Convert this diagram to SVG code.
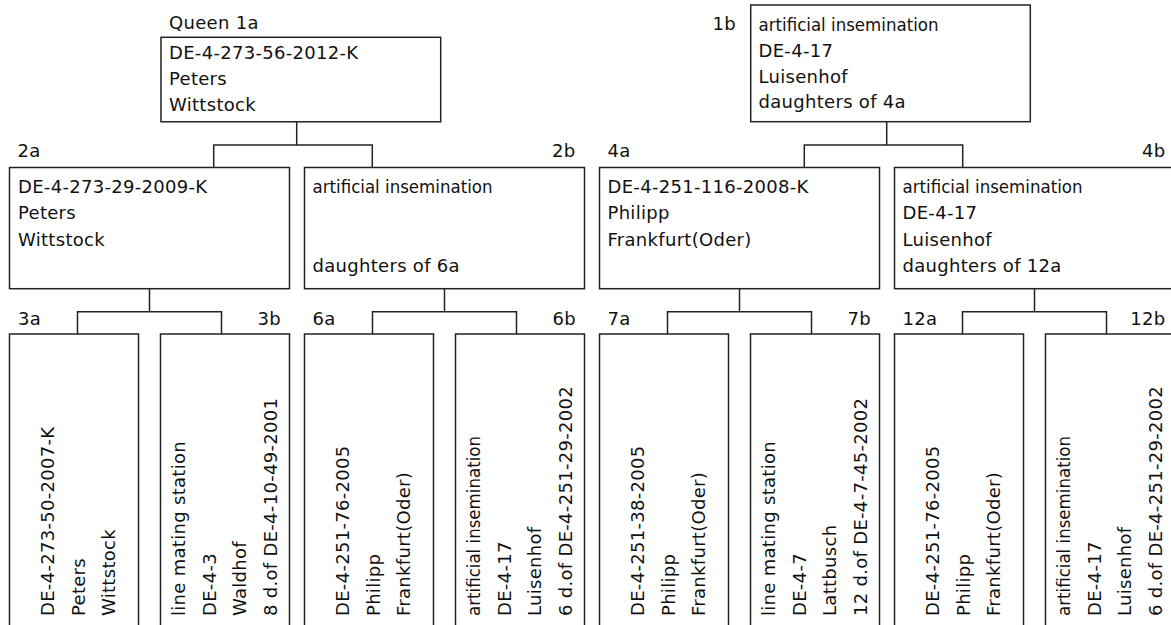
<svg xmlns="http://www.w3.org/2000/svg" width="1171" height="625" viewBox="0 0 1171 625">
<style>
rect.box{fill:#fff;stroke:#222;stroke-width:1.5}
text{font-family:"DejaVu Sans","Liberation Sans",sans-serif;font-size:18px;fill:#111;letter-spacing:0.3px}
text.ai{letter-spacing:0}
text.end{text-anchor:end}
#connectors path{fill:none;stroke:#222;stroke-width:1.5}
</style>
<rect width="1171" height="625" fill="#fff"/>
<g id="connectors">
<path d="M296.7,122 V145 M213.7,167.5 V145 H372.3 V167.5"/>
<path d="M886.7,121.7 V145 M804.3,167.5 V145 H962.7 V167.5"/>
<path d="M149.5,288.7 V311.7 M77.5,334 V311.7 H221.5 V334"/>
<path d="M444.5,288.7 V311.7 M372.5,334 V311.7 H516.5 V334"/>
<path d="M739.5,288.7 V311.7 M667.5,334 V311.7 H811.5 V334"/>
<path d="M1034.5,288.7 V311.7 M962.5,334 V311.7 H1106.5 V334"/>
</g>
<g id="n1a">
<text x="169" y="28.5">Queen 1a</text>
<rect class="box" x="161" y="37.3" width="279.7" height="84.5"/>
<text x="169" y="59">DE-4-273-56-2012-K</text>
<text x="169" y="85">Peters</text>
<text x="169" y="111">Wittstock</text>
</g>
<g id="n1b">
<text class="end" x="736" y="30">1b</text>
<rect class="box" x="750.7" y="5" width="279.6" height="116.7"/>
<text class="ai" x="758.5" y="30.7" textLength="180" lengthAdjust="spacingAndGlyphs">artificial insemination</text>
<text x="758.5" y="56.7">DE-4-17</text>
<text x="758.5" y="82.5">Luisenhof</text>
<text x="758.5" y="108.3">daughters of 4a</text>
</g>
<g id="n2a">
<text x="17.5" y="157.3">2a</text>
<rect class="box" x="9.5" y="167.5" width="280" height="121.2"/>
<text x="18" y="193">DE-4-273-29-2009-K</text>
<text x="18" y="219.3">Peters</text>
<text x="18" y="245.6">Wittstock</text>
</g>
<g id="n2b">
<text class="end" x="575.5" y="157.3">2b</text>
<rect class="box" x="304.5" y="167.5" width="280" height="121.2"/>
<text class="ai" x="312.5" y="193" textLength="180" lengthAdjust="spacingAndGlyphs">artificial insemination</text>
<text x="312.5" y="271.9">daughters of 6a</text>
</g>
<g id="n4a">
<text x="607.5" y="157.3">4a</text>
<rect class="box" x="599.5" y="167.5" width="280" height="121.2"/>
<text x="607.5" y="193">DE-4-251-116-2008-K</text>
<text x="607.5" y="219.3">Philipp</text>
<text x="607.5" y="245.6">Frankfurt(Oder)</text>
</g>
<g id="n4b">
<text class="end" x="1165.5" y="157.3">4b</text>
<rect class="box" x="894.5" y="167.5" width="280" height="121.2"/>
<text class="ai" x="902.5" y="193" textLength="180" lengthAdjust="spacingAndGlyphs">artificial insemination</text>
<text x="902.5" y="219.3">DE-4-17</text>
<text x="902.5" y="245.6">Luisenhof</text>
<text x="902.5" y="271.9">daughters of 12a</text>
</g>
<g id="n3a">
<text x="18" y="324.7">3a</text>
<rect class="box" x="9.5" y="334" width="129" height="300"/>
<text transform="translate(54,616) rotate(-90)">DE-4-273-50-2007-K</text>
<text transform="translate(84.5,616) rotate(-90)">Peters</text>
<text transform="translate(115,616) rotate(-90)">Wittstock</text>
</g>
<g id="n3b">
<text class="end" x="281" y="324.7">3b</text>
<rect class="box" x="160.5" y="334" width="129" height="300"/>
<text transform="translate(185,616) rotate(-90)">line mating station</text>
<text transform="translate(215.5,616) rotate(-90)">DE-4-3</text>
<text transform="translate(246,616) rotate(-90)">Waldhof</text>
<text transform="translate(276.5,616) rotate(-90)">8 d.of DE-4-10-49-2001</text>
</g>
<g id="n6a">
<text x="312.5" y="324.7">6a</text>
<rect class="box" x="304.5" y="334" width="129" height="300"/>
<text transform="translate(349,616) rotate(-90)">DE-4-251-76-2005</text>
<text transform="translate(379.5,616) rotate(-90)">Philipp</text>
<text transform="translate(410,616) rotate(-90)">Frankfurt(Oder)</text>
</g>
<g id="n6b">
<text class="end" x="576" y="324.7">6b</text>
<rect class="box" x="455.5" y="334" width="129" height="300"/>
<text class="ai" transform="translate(480,616) rotate(-90)" textLength="180" lengthAdjust="spacingAndGlyphs">artificial insemination</text>
<text transform="translate(510.5,616) rotate(-90)">DE-4-17</text>
<text transform="translate(541,616) rotate(-90)">Luisenhof</text>
<text transform="translate(571.5,616) rotate(-90)">6 d.of DE-4-251-29-2002</text>
</g>
<g id="n7a">
<text x="607.5" y="324.7">7a</text>
<rect class="box" x="599.5" y="334" width="129" height="300"/>
<text transform="translate(644,616) rotate(-90)">DE-4-251-38-2005</text>
<text transform="translate(674.5,616) rotate(-90)">Philipp</text>
<text transform="translate(705,616) rotate(-90)">Frankfurt(Oder)</text>
</g>
<g id="n7b">
<text class="end" x="871" y="324.7">7b</text>
<rect class="box" x="750.5" y="334" width="129" height="300"/>
<text transform="translate(775,616) rotate(-90)">line mating station</text>
<text transform="translate(805.5,616) rotate(-90)">DE-4-7</text>
<text transform="translate(836,616) rotate(-90)">Lattbusch</text>
<text transform="translate(866.5,616) rotate(-90)">12 d.of DE-4-7-45-2002</text>
</g>
<g id="n12a">
<text x="902.5" y="324.7">12a</text>
<rect class="box" x="894.5" y="334" width="129" height="300"/>
<text transform="translate(939,616) rotate(-90)">DE-4-251-76-2005</text>
<text transform="translate(969.5,616) rotate(-90)">Philipp</text>
<text transform="translate(1000,616) rotate(-90)">Frankfurt(Oder)</text>
</g>
<g id="n12b">
<text class="end" x="1165.5" y="324.7">12b</text>
<rect class="box" x="1045.5" y="334" width="129" height="300"/>
<text class="ai" transform="translate(1070,616) rotate(-90)" textLength="180" lengthAdjust="spacingAndGlyphs">artificial insemination</text>
<text transform="translate(1100.5,616) rotate(-90)">DE-4-17</text>
<text transform="translate(1131,616) rotate(-90)">Luisenhof</text>
<text transform="translate(1161.5,616) rotate(-90)">6 d.of DE-4-251-29-2002</text>
</g>
</svg>
